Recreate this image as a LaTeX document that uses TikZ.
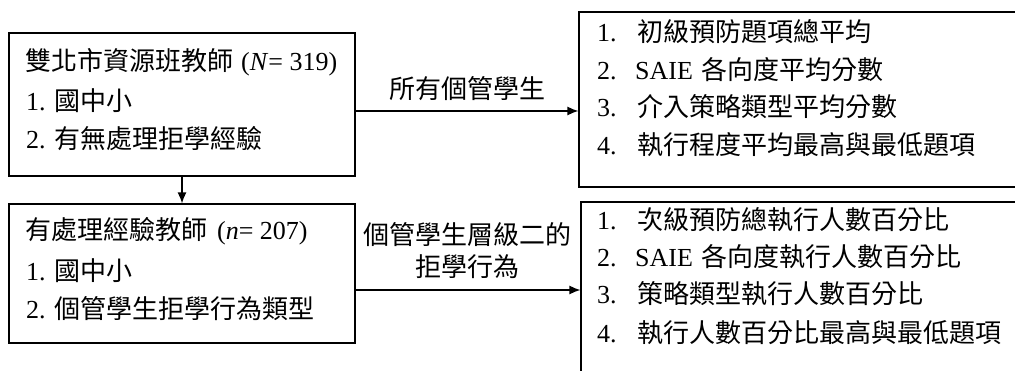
\documentclass[tikz,border=0pt]{standalone}
\usepackage{fontspec}
\setmainfont{Liberation Serif}
\newfontfamily\cjk{Noto Sans CJK TC}
\newcommand\zh[1]{{\cjk #1}}
\usetikzlibrary{arrows.meta}
\begin{document}
\begin{tikzpicture}[x=1pt,y=-1pt,
  boxstyle/.style={draw, line width=1.2pt, inner sep=0pt},
  txt/.style={inner sep=0pt, anchor=base west, font=\fontsize{26}{30}\selectfont},
  lbl/.style={inner sep=0pt, anchor=base, font=\fontsize{26}{30}\selectfont},
  arr/.style={line width=1.3pt, -{Latex[length=11pt,width=9pt]}}]
\useasboundingbox (0,0) rectangle (1015,371);
\clip (0,0) rectangle (1015,371);
% left boxes
\node[boxstyle, minimum width=346pt, minimum height=143pt] (b1) at (182,104.5) {};
\node[boxstyle, minimum width=346pt, minimum height=139pt] (b2) at (182,273.5) {};
% right boxes (open to the right / bottom)
\node[boxstyle, minimum width=461pt, minimum height=175pt] (rb1) at (809.5,99.5) {};
\node[boxstyle, minimum width=459pt, minimum height=200pt] (rb2) at (810.5,302) {};
% left box texts
\node[txt] (t11) at (25,71) {\zh{雙北市資源班教師}\hspace{8pt}(\textit{N}= 319)};
\node[txt] (t12) at (26,111) {1.\hspace{9pt}\zh{國中小}};
\node[txt] (t13) at (26,149) {2.\hspace{9pt}\zh{有無處理拒學經驗}};
\node[txt] (t21) at (25,240) {\zh{有處理經驗教師}\hspace{10pt}(\textit{n}= 207)};
\node[txt] (t22) at (26,281) {1.\hspace{9pt}\zh{國中小}};
\node[txt] (t23) at (26,319) {2.\hspace{9pt}\zh{個管學生拒學行為類型}};
% right box texts
\node[txt] (r11) at (597,42) {\makebox[40pt][l]{1.}\zh{初級預防題項總平均}};
\node[txt] (r12) at (597,80) {\makebox[38pt][l]{2.}SAIE\hspace{9pt}\zh{各向度平均分數}};
\node[txt] (r13) at (597,117) {\makebox[40pt][l]{3.}\zh{介入策略類型平均分數}};
\node[txt] (r14) at (597,155) {\makebox[40pt][l]{4.}\zh{執行程度平均最高與最低題項}};
\node[txt] (r21) at (597,230) {\makebox[40pt][l]{1.}\zh{次級預防總執行人數百分比}};
\node[txt] (r22) at (597,267) {\makebox[38pt][l]{2.}SAIE\hspace{9pt}\zh{各向度執行人數百分比}};
\node[txt] (r23) at (597,304) {\makebox[40pt][l]{3.}\zh{策略類型執行人數百分比}};
\node[txt] (r24) at (597,342) {\makebox[40pt][l]{4.}\zh{執行人數百分比最高與最低題項}};
% arrow labels
\node[lbl] (l1) at (467.5,99) {\zh{所有個管學生}};
\node[lbl] (l2) at (467.5,245) {\zh{個管學生層級二的}};
\node[lbl] (l3) at (467.5,277) {\zh{拒學行為}};
% connectors
\coordinate (a1) at (579,111);
\coordinate (a2) at (581,290);
\draw[arr] (b1.east |- a1) -- (rb1.west |- a1);
\draw[arr] (b2.east |- a2) -- (rb2.west |- a2);
\draw[arr] (b1.south) -- (b2.north);
\end{tikzpicture}
\end{document}
